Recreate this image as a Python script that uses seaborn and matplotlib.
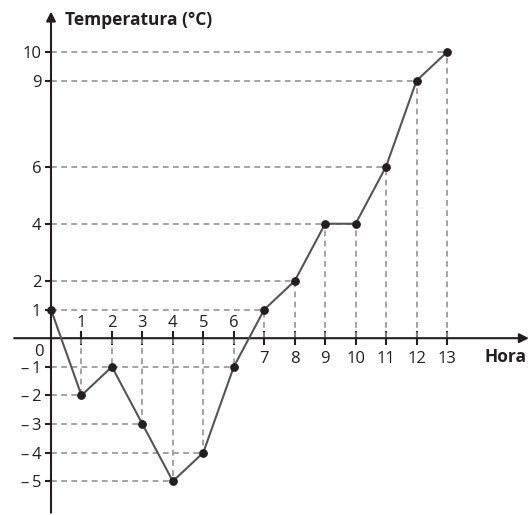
import numpy as np
import pandas as pd
import seaborn as sns
import matplotlib.pyplot as plt

# data
hours = [0, 1, 2, 3, 4, 5, 6, 7, 8, 9, 10, 11, 12, 13]
temps = [1, -2, -1, -3, -5, -4, -1, 1, 2, 4, 4, 6, 9, 10]
ytick_vals = [-5, -4, -3, -2, -1, 1, 2, 4, 6, 9, 10]
xlabels_above = [1, 2, 3, 4, 5, 6]

df = pd.DataFrame({"Hora": hours, "Temp": temps})

sns.set_style("white")
plt.rcParams['font.family'] = ['Open Sans', 'DejaVu Sans']

fig = plt.figure(figsize=(5.32, 5.15), dpi=100)
ax = fig.add_axes([0, 0, 1, 1])
ax.set_xlim(-1.674, 15.79)
ax.set_ylim(-6.18, 11.82)

axcol = '#231f20'
dashcol = '#949494'

# dashed guides: horizontal from y axis to the furthest point at that level,
# vertical from each point to the x axis
for yv in sorted(set(temps)):
    xmax = df.loc[df.Temp == yv, "Hora"].max()
    if xmax > 0:
        ax.hlines(yv, 0, xmax, colors=dashcol, lw=1.2, linestyles=(0, (3.5, 2.6)), zorder=1)
for h, t in zip(hours[1:], temps[1:]):
    ax.vlines(h, 0, t, colors=dashcol, lw=1.2, linestyles=(0, (3.5, 2.6)), zorder=1)

sns.lineplot(data=df, x="Hora", y="Temp", ax=ax, color='#555555', lw=1.5,
             marker='o', markersize=5.5, markerfacecolor=axcol, markeredgecolor=axcol,
             zorder=4)

# axes with arrows
for s in ax.spines.values():
    s.set_visible(False)
ax.spines['left'].set_position(('data', 0))
ax.spines['bottom'].set_position(('data', 0))
ax.annotate('', xy=(15.69, 0), xytext=(-1.21, 0),
            arrowprops=dict(arrowstyle='-|>', color=axcol, lw=1.5, mutation_scale=14,
                            shrinkA=0, shrinkB=0), zorder=3)
ax.annotate('', xy=(0, 11.42), xytext=(0, -6.1),
            arrowprops=dict(arrowstyle='-|>', color=axcol, lw=1.5, mutation_scale=14,
                            shrinkA=0, shrinkB=0), zorder=3)

ax.set_yticks(ytick_vals)
ax.set_yticklabels([('\u2013\u2009' + str(-v)) if v < 0 else str(v) for v in ytick_vals])
ax.set_xticks(hours[1:])
ax.set_xticklabels(['' if h in xlabels_above else str(h) for h in hours[1:]])
ax.tick_params(axis='y', direction='out', length=4, width=1.5, color=axcol,
               labelsize=12, labelcolor=axcol, pad=3, left=True)
ax.tick_params(axis='x', direction='inout', length=10, width=1.5, color=axcol,
               labelsize=12, labelcolor=axcol, pad=4, bottom=True)
for h in xlabels_above:
    ax.annotate(str(h), xy=(h, 0), xytext=(0, 5), textcoords='offset points',
                ha='center', va='bottom', fontsize=12, color=axcol)
ax.annotate('0', xy=(0, 0), xytext=(-9, -4), textcoords='offset points',
            ha='center', va='top', fontsize=12, color=axcol)

ax.set_xlabel('')
ax.set_ylabel('')
ax.text(0.122, 0.962, 'Temperatura (°C)', transform=ax.transAxes, fontsize=12.5,
        fontweight='bold', color=axcol, ha='left', va='center')
ax.text(0.99, 0.307, 'Hora', transform=ax.transAxes, fontsize=12.5,
        fontweight='bold', color=axcol, ha='right', va='center')

fig.savefig('out.png', dpi=100)
